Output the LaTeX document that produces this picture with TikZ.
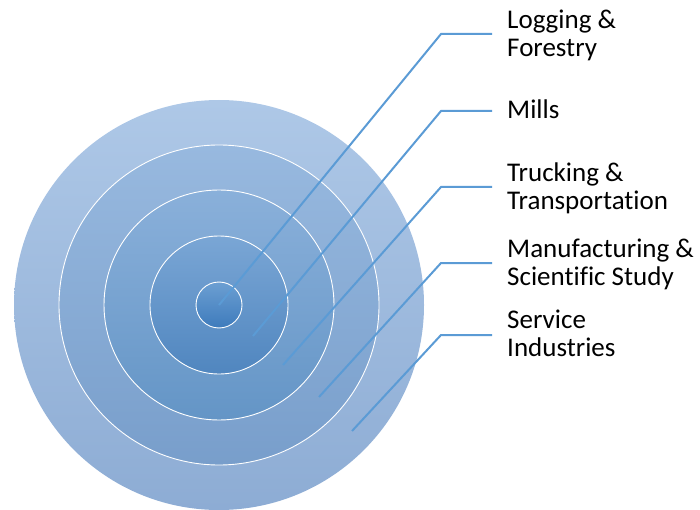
\documentclass[tikz,border=0pt]{standalone}
\usepackage{fontspec}
\setmainfont{Carlito}[Ligatures=NoCommon]
\begin{document}
\begin{tikzpicture}[x=1pt,y=-1pt,
  ring/.style={draw=white,line width=0.9pt},
  conn/.style={draw=lineblue,line width=2pt},
  lab/.style={anchor=base west,inner sep=0pt,align=left,font=\fontsize{27}{28}\selectfont,text=black}]
\definecolor{lineblue}{HTML}{5B9BD5}
\useasboundingbox (0,0) rectangle (700,510);
\def\cx{219}\def\cy{305}
\shade[top color={rgb,255:red,174;green,200;blue,231},bottom color={rgb,255:red,141;green,172;blue,212}] (\cx,\cy) circle (205);
\shade[ring,top color={rgb,255:red,152;green,185;blue,223},bottom color={rgb,255:red,120;green,158;blue,203}] (\cx,\cy) circle (160);
\shade[ring,top color={rgb,255:red,138;green,176;blue,218},bottom color={rgb,255:red,100;green,149;blue,198}] (\cx,\cy) circle (115);
\shade[ring,top color={rgb,255:red,122;green,166;blue,213},bottom color={rgb,255:red,80;green,134;blue,191}] (\cx,\cy) circle (69);
\shade[ring,top color={rgb,255:red,108;green,159;blue,210},bottom color={rgb,255:red,62;green,123;blue,188}] (\cx,\cy) circle (23);
% anchor points
\coordinate (s1) at (219,305); \coordinate (b1) at (441,34);  \coordinate (e1) at (492,34);
\coordinate (s2) at (253,336); \coordinate (b2) at (441,111); \coordinate (e2) at (492,111);
\coordinate (s3) at (283,365); \coordinate (b3) at (441,187); \coordinate (e3) at (492,187);
\coordinate (s4) at (319,397); \coordinate (b4) at (441,263); \coordinate (e4) at (492,263);
\coordinate (s5) at (352,431); \coordinate (b5) at (441,335); \coordinate (e5) at (492,335);
\draw[conn] (s1) -- (b1) -- (e1);
\draw[conn] (s2) -- (b2) -- (e2);
\draw[conn] (s3) -- (b3) -- (e3);
\draw[conn] (s4) -- (b4) -- (e4);
\draw[conn] (s5) -- (b5) -- (e5);
\node[lab] (l1) at (507,57) {Logging \&\\Forestry};
\node[lab] (l2) at (507,119) {Mills};
\node[lab] (l3) at (507,210) {Trucking \&\\Transportation};
\node[lab] (l4) at (507,285) {Manufacturing \&\\Scientific Study};
\node[lab] (l5) at (507,356) {Service\\Industries};
\end{tikzpicture}
\end{document}
